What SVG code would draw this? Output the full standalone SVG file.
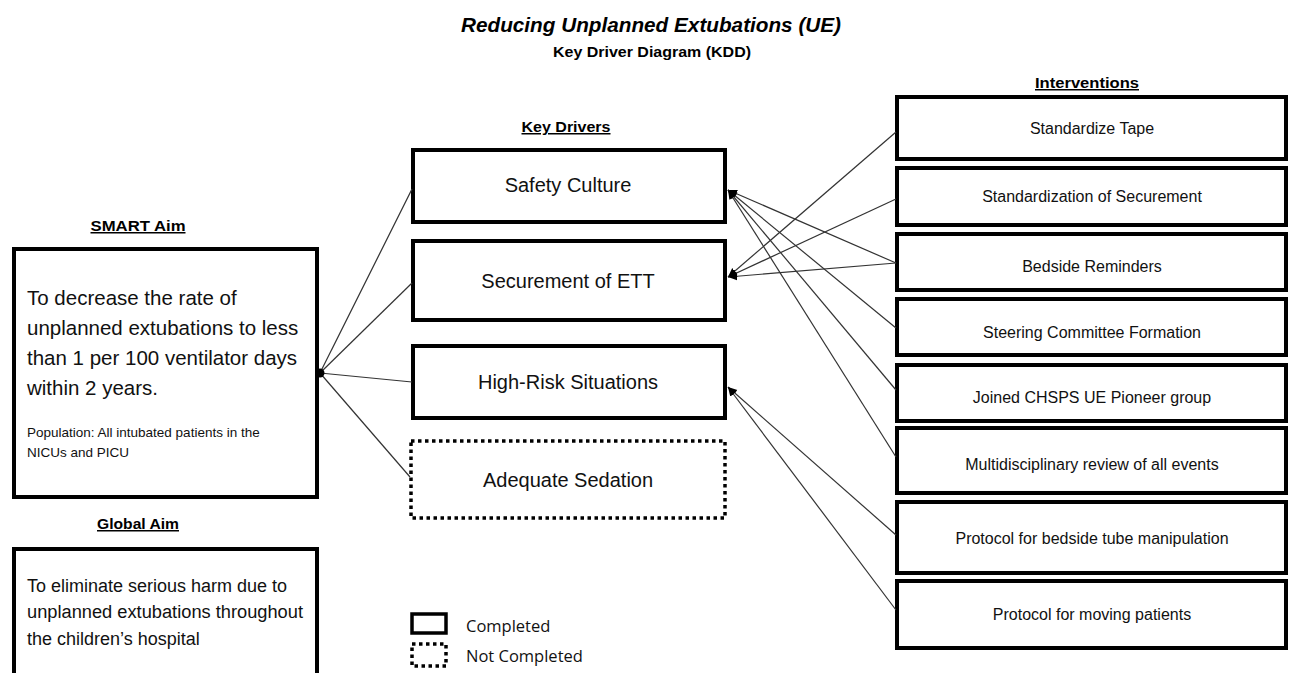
<svg xmlns="http://www.w3.org/2000/svg" width="1291" height="673" viewBox="0 0 1291 673">
<style>
  .bg{fill:#ffffff}
  .box{fill:#ffffff;stroke:#000;stroke-width:4}
  .dot{fill:#ffffff;stroke:#000;stroke-width:3.5;stroke-dasharray:3.5 3.5}
  .hd{font-family:"Liberation Sans",Arial,sans-serif;font-weight:bold;font-size:15px;fill:#000;text-anchor:middle;text-decoration:underline}
  .kd{font-family:"Liberation Sans",Arial,sans-serif;font-size:20px;fill:#111;text-anchor:middle}
  .iv{font-family:"Liberation Sans",Arial,sans-serif;font-size:16px;fill:#111;text-anchor:middle}
  .aim{font-family:"Liberation Sans",Arial,sans-serif;font-size:20.5px;fill:#111}
  .pop{font-family:"Liberation Sans",Arial,sans-serif;font-size:13.5px;fill:#111}
  .gl{font-family:"Liberation Sans",Arial,sans-serif;font-size:18px;fill:#111}
  .lg{font-family:"Open Sans",sans-serif;font-size:16.5px;fill:#111}
  .cn{stroke:#333;stroke-width:1.2;fill:none}
</style>
<defs>
  <marker id="arr" markerWidth="10" markerHeight="10" refX="9" refY="5" orient="auto" markerUnits="userSpaceOnUse">
    <path d="M0,1 L9,5 L0,9 Z" fill="#000"/>
  </marker>
</defs>
<rect class="bg" x="0" y="0" width="1291" height="673"/>

<g id="title">
  <text x="651" y="32" font-family="Liberation Sans, Arial, sans-serif" font-size="20" font-weight="bold" font-style="italic" text-anchor="middle" textLength="380" lengthAdjust="spacingAndGlyphs">Reducing Unplanned Extubations (UE)</text>
  <text x="652" y="57" font-family="Liberation Sans, Arial, sans-serif" font-size="15" font-weight="bold" text-anchor="middle" textLength="198" lengthAdjust="spacingAndGlyphs">Key Driver Diagram (KDD)</text>
</g>

<g id="headings">
  <text class="hd" x="566" y="132" textLength="89" lengthAdjust="spacingAndGlyphs">Key Drivers</text>
  <text class="hd" x="1087" y="88" textLength="104" lengthAdjust="spacingAndGlyphs">Interventions</text>
  <text class="hd" x="138" y="231" textLength="95" lengthAdjust="spacingAndGlyphs">SMART Aim</text>
  <text class="hd" x="138" y="529" textLength="82" lengthAdjust="spacingAndGlyphs">Global Aim</text>
</g>

<g id="smart-aim">
  <rect class="box" x="14" y="249" width="303" height="248"/>
  <text class="aim" x="27" y="305">To decrease the rate of</text>
  <text class="aim" x="27" y="335">unplanned extubations to less</text>
  <text class="aim" x="27" y="365">than 1 per 100 ventilator days</text>
  <text class="aim" x="27" y="395">within 2 years.</text>
  <text class="pop" x="27" y="437">Population: All intubated patients in the</text>
  <text class="pop" x="27" y="457">NICUs and PICU</text>
</g>

<g id="global-aim">
  <rect class="box" x="14" y="549" width="303" height="140"/>
  <text class="gl" x="27" y="592">To eliminate serious harm due to</text>
  <text class="gl" x="27" y="618" textLength="276" lengthAdjust="spacingAndGlyphs">unplanned extubations throughout</text>
  <text class="gl" x="27" y="645">the children’s hospital</text>
</g>

<g id="kd-safety">
  <rect class="box" x="413" y="150" width="312" height="72"/>
  <text class="kd" x="568" y="192">Safety Culture</text>
</g>
<g id="kd-securement">
  <rect class="box" x="413" y="241" width="312" height="79"/>
  <text class="kd" x="568" y="288">Securement of ETT</text>
</g>
<g id="kd-highrisk">
  <rect class="box" x="413" y="346" width="312" height="72"/>
  <text class="kd" x="568" y="389">High-Risk Situations</text>
</g>
<g id="kd-sedation">
  <rect class="dot" x="411" y="441" width="314" height="77"/>
  <text class="kd" x="568" y="487">Adequate Sedation</text>
</g>

<g id="iv-tape">
  <rect class="box" x="897" y="97" width="389" height="62"/>
  <text class="iv" x="1092" y="134">Standardize Tape</text>
</g>
<g id="iv-securement">
  <rect class="box" x="897" y="168" width="389" height="57"/>
  <text class="iv" x="1092" y="202">Standardization of Securement</text>
</g>
<g id="iv-bedside">
  <rect class="box" x="897" y="234" width="389" height="56"/>
  <text class="iv" x="1092" y="272">Bedside Reminders</text>
</g>
<g id="iv-steering">
  <rect class="box" x="897" y="299" width="389" height="56"/>
  <text class="iv" x="1092" y="338">Steering Committee  Formation</text>
</g>
<g id="iv-joined">
  <rect class="box" x="897" y="365" width="389" height="56"/>
  <text class="iv" x="1092" y="403">Joined CHSPS UE Pioneer group</text>
</g>
<g id="iv-review">
  <rect class="box" x="897" y="428" width="389" height="65"/>
  <text class="iv" x="1092" y="470">Multidisciplinary review of all events</text>
</g>
<g id="iv-tube">
  <rect class="box" x="897" y="502" width="389" height="71"/>
  <text class="iv" x="1092" y="544">Protocol for  bedside tube manipulation</text>
</g>
<g id="iv-moving">
  <rect class="box" x="897" y="581" width="389" height="67"/>
  <text class="iv" x="1092" y="620">Protocol for  moving patients</text>
</g>

<g id="connectors">
  <line class="cn" x1="320" y1="373" x2="412" y2="189"/>
  <line class="cn" x1="320" y1="373" x2="412" y2="283"/>
  <line class="cn" x1="320" y1="373" x2="412" y2="382"/>
  <line class="cn" x1="320" y1="373" x2="410" y2="477"/>
  <circle cx="320" cy="373" r="4.5" fill="#000"/>

  <line class="cn" x1="896" y1="263" x2="728" y2="190" marker-end="url(#arr)"/>
  <line class="cn" x1="896" y1="328" x2="728" y2="190" marker-end="url(#arr)"/>
  <line class="cn" x1="896" y1="390" x2="728" y2="190" marker-end="url(#arr)"/>
  <line class="cn" x1="896" y1="457" x2="728" y2="190" marker-end="url(#arr)"/>

  <line class="cn" x1="896" y1="132" x2="728" y2="277" marker-end="url(#arr)"/>
  <line class="cn" x1="896" y1="199" x2="728" y2="277" marker-end="url(#arr)"/>
  <line class="cn" x1="896" y1="263" x2="728" y2="277" marker-end="url(#arr)"/>

  <line class="cn" x1="896" y1="535" x2="728" y2="387" marker-end="url(#arr)"/>
  <line class="cn" x1="896" y1="610" x2="728" y2="387" marker-end="url(#arr)"/>
</g>

<g id="legend">
  <rect x="412" y="614" width="34" height="19" fill="#fff" stroke="#000" stroke-width="3.5"/>
  <text class="lg" x="466" y="632">Completed</text>
  <rect x="412" y="644" width="34" height="22" fill="#fff" stroke="#000" stroke-width="3.5" stroke-dasharray="3.5 3.5"/>
  <text class="lg" x="466" y="662">Not Completed</text>
</g>
</svg>
